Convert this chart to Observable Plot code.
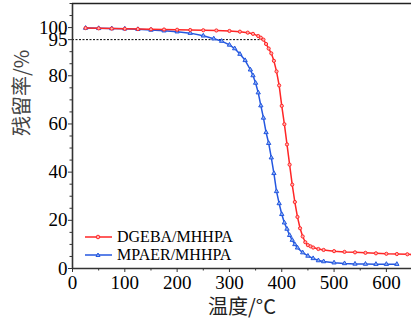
<!DOCTYPE html>
<html><head><meta charset="utf-8">
<script src="https://cdn.jsdelivr.net/npm/d3@7"></script>
<script src="https://cdn.jsdelivr.net/npm/@observablehq/plot@0.6"></script>
<style>
body{margin:0;background:#fff;}
#wrap{position:relative;width:411px;height:321px;overflow:hidden;}
#legend{position:absolute;left:84px;top:228px;font-family:"Liberation Serif","DejaVu Serif",serif;font-size:16px;color:#000;}
.row{display:flex;align-items:center;height:18px;}
.row svg{margin-right:4px;}
</style></head><body><div id="wrap"><div id="legend"></div></div><script>
// ---- data ----
const seriesNames = ["DGEBA/MHHPA", "MPAER/MHHPA"];
const colors = ["#ff2626", "#2457e0"];
const redT = [25,50,75,100,125,150,175,200,225,250,275,300,320,335,345,355,360,365,370,375,380,385,390,395,400,405,410,415,420,425,430,435,440,445,450,455,460,470,480,500,520,540,560,580,600,620,640,650];
const redV = [99.8,99.7,99.6,99.5,99.4,99.3,99.2,99.1,99.0,98.9,98.8,98.6,98.3,97.9,97.4,96.5,95.8,95.0,93.2,91.3,89.3,86.2,81.8,76.0,67.5,59.9,51.5,43.1,34.8,27.6,21.4,16.7,13.3,10.9,9.7,9.2,8.7,8.1,7.7,7.2,6.9,6.7,6.5,6.3,6.1,6.0,5.9,5.8];
const blueT = [25,50,75,100,125,150,175,200,225,250,270,285,300,310,320,330,340,345,350,355,360,365,370,375,380,385,390,395,400,405,410,415,420,425,430,440,450,460,470,480,500,520,540,560,580,600,620];
const blueV = [99.8,99.7,99.6,99.5,99.3,99.0,98.7,98.3,97.7,96.6,95.4,94.4,92.8,91.3,89.0,86.4,82.5,80.1,77.0,73.0,67.6,62.5,56.5,52.0,46.0,39.5,32.0,27.0,22.5,19.0,16.4,13.8,11.8,10.0,8.6,6.6,5.2,4.2,3.3,2.9,2.4,2.1,1.9,1.85,1.8,1.8,1.8];
const threshold = [{y: 95, x1: 0, x2: 365}];
const xDomain = [0, 648];
const yDomain = [0, 110];
const xMajor = [0,100,200,300,400,500,600];
const xMinor = [50,150,250,350,450,550];
const yMajor = [0,20,40,60,80,95,100];
const yMinor = [5,10,15,25,30,35,45,50,55,65,70,75,85,90,105,110];
const xLabel = "温度/°C";
const yLabel = "残留率/%";

const red = redT.map((t,i)=>({t, v: redV[i]}));
const blue = blueT.map((t,i)=>({t, v: blueV[i]}));

const serif = '"Liberation Serif","DejaVu Serif",serif';
const cjk = '"Noto Sans CJK SC",sans-serif';

const chart = Plot.plot({
  width: 411, height: 321,
  marginLeft: 72, marginRight: 0, marginTop: 3, marginBottom: 53,
  style: {fontFamily: serif, background: "#fff", overflow: "visible"},
  x: {domain: xDomain},
  y: {domain: yDomain},
  marks: [
    Plot.ruleY(threshold, {y: "y", x1: "x1", x2: "x2", stroke: "#000", strokeWidth: 1, strokeDasharray: "2,1.5"}),
    Plot.line(blue, {x: "t", y: "v", stroke: colors[1], strokeWidth: 1.5}),
    Plot.dot(blue, {x: "t", y: "v", stroke: colors[1], symbol: "triangle", r: 1.6, strokeWidth: 1, fill: "#8fb0f0"}),
    Plot.line(red, {x: "t", y: "v", stroke: colors[0], strokeWidth: 1.5}),
    Plot.dot(red, {x: "t", y: "v", stroke: colors[0], symbol: "circle", r: 1.6, strokeWidth: 1, fill: "#ffb0b0"}),
    Plot.axisY({ticks: yMajor, tickSize: 4, tickPadding: 1, fontSize: 19, fontFamily: serif, fill: "#000", stroke: "#333", label: null, tickFormat: d => d}),
    Plot.axisY({ticks: yMinor, tickSize: 2.5, text: null, label: null, stroke: "#333"}),
    Plot.axisX({ticks: xMajor, tickSize: 4, tickPadding: 3, fontSize: 19, fontFamily: serif, fill: "#000", stroke: "#333", label: null, tickFormat: d => d}),
    Plot.axisX({ticks: xMinor, tickSize: 2.5, text: null, label: null, stroke: "#333"}),
    Plot.ruleX([xDomain[0]], {stroke: "#333", strokeWidth: 1.6}),
    Plot.ruleY([yDomain[0]], {stroke: "#333", strokeWidth: 1.6}),
    Plot.ruleY([yDomain[1]], {stroke: "#222", strokeWidth: 1.6}),
    Plot.text([yLabel], {text: d => d, frameAnchor: "left", dx: -50, rotate: -90, fontSize: 20, fontFamily: cjk, fill: "#444"}),
    Plot.text([xLabel], {text: d => d, frameAnchor: "bottom", dy: 45, fontSize: 20, fontFamily: cjk, fill: "#222"})
  ]
});
const wrap = document.getElementById("wrap");
wrap.insertBefore(chart, wrap.firstChild);

const legend = document.getElementById("legend");
seriesNames.forEach((name, i) => {
  const row = document.createElement("div");
  row.className = "row";
  const sym = i === 0
    ? `<circle cx="14" cy="7" r="1.8" fill="#ffb0b0" stroke="${colors[0]}"/>`
    : `<path d="M14,5 L16,8.5 L12,8.5 Z" fill="#8fb0f0" stroke="${colors[1]}"/>`;
  row.innerHTML = `<svg width="29" height="14"><line x1="1" x2="28" y1="7" y2="7" stroke="${colors[i]}" stroke-width="1.5"/>${sym}</svg><span>${name}</span>`;
  legend.appendChild(row);
});
</script></body></html>
